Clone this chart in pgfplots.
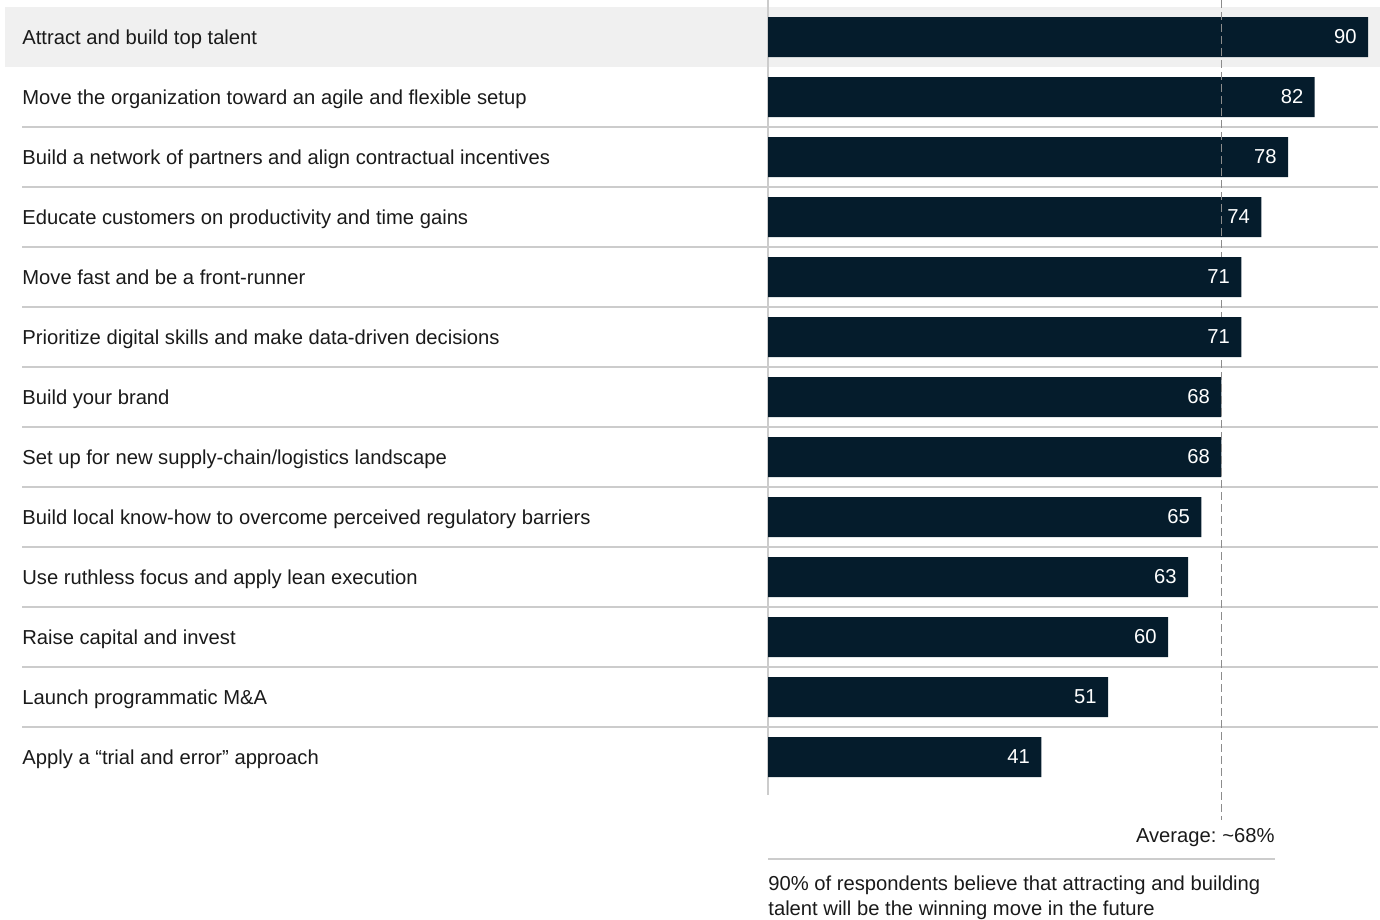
\documentclass[border=0pt]{standalone}
\usepackage{pgfplots}
\pgfplotsset{compat=1.18}
\usepackage{fontspec}
\setmainfont{Liberation Sans}
\definecolor{barc}{HTML}{051C2C}
\definecolor{hl}{HTML}{F0F0F0}
\definecolor{sep}{HTML}{CCCCCC}
\definecolor{dashc}{HTML}{8C8C8C}
\definecolor{txt}{HTML}{1A1A1A}
\pgfplotstableread{
val pos
90 0
82 1
78 2
74 3
71 4
71 5
68 6
68 7
65 8
63 9
60 10
51 11
41 12
}\datatable
\begin{document}
\begin{tikzpicture}[font=\fontsize{10.1}{12}\selectfont]
\path[use as bounding box] (0,0) rectangle (690pt,460pt);
% highlight of first row
\fill[hl] (2.5pt,426.5pt) rectangle (690pt,456.5pt);
% separators
\foreach \k in {0,...,10}{
  \draw[sep, line width=0.75pt] (11pt,{396.5pt-30pt*\k}) -- (689pt,{396.5pt-30pt*\k});
}
% vertical axis line
\draw[sep, line width=0.75pt] (384pt,460pt) -- (384pt,62.5pt);
\begin{axis}[
  at={(384pt,62.5pt)}, anchor=south west,
  scale only axis, width=306pt, height=397.5pt,
  xmin=0, xmax=91.8, ymin=-0.6167, ymax=12.6333, y dir=reverse,
  clip=false,
  xbar, bar width=20pt, bar shift=0pt,
  axis line style={draw=none},
  major tick length=0pt,
  xtick=\empty,
  ytick={0,...,12},
  yticklabels={
    Attract and build top talent,
    Move the organization toward an agile and flexible setup,
    Build a network of partners and align contractual incentives,
    Educate customers on productivity and time gains,
    Move fast and be a front-runner,
    Prioritize digital skills and make data-driven decisions,
    Build your brand,
    Set up for new supply-chain/logistics landscape,
    Build local know-how to overcome perceived regulatory barriers,
    Use ruthless focus and apply lean execution,
    Raise capital and invest,
    Launch programmatic M\&A,
    Apply a “trial and error” approach},
  yticklabel style={anchor=base west, inner sep=0pt, xshift=-373pt, yshift=-3.6pt, text=txt, font=\fontsize{10.1}{12}\selectfont},
  /pgf/number format/assume math mode=true,
]
% bars
\addplot[fill=barc, draw=none] table[x=val, y=pos] {\datatable};
% average line (~68)
\addplot[dashc, line width=0.75pt, dash pattern=on 4pt off 2pt, sharp plot, mark=none] coordinates {(68,-0.6167) (68,13.05)};
% value labels
\addplot[fill=none, draw=none, point meta=x, nodes near coords,
  nodes near coords style={anchor=east, inner xsep=1.5pt, inner ysep=0pt, minimum height=20pt, fill=barc, xshift=-4pt, text=white, font=\fontsize{10.1}{12}\selectfont}]
  table[x=val, y=pos] {\datatable};
\end{axis}
\node[anchor=base east, inner sep=0pt, text=txt] at (637.5pt,38.5pt) {Average: \kern-0.8pt\textasciitilde 68\%};
\draw[sep, line width=0.75pt] (384pt,30.5pt) -- (637.5pt,30.5pt);
\node[anchor=base west, inner sep=0pt, text=txt] at (384pt,14.5pt) {90\% of respondents believe that attracting and building};
\node[anchor=base west, inner sep=0pt, text=txt] at (384pt,2.2pt) {talent will be the winning move in the future};
\end{tikzpicture}
\end{document}
